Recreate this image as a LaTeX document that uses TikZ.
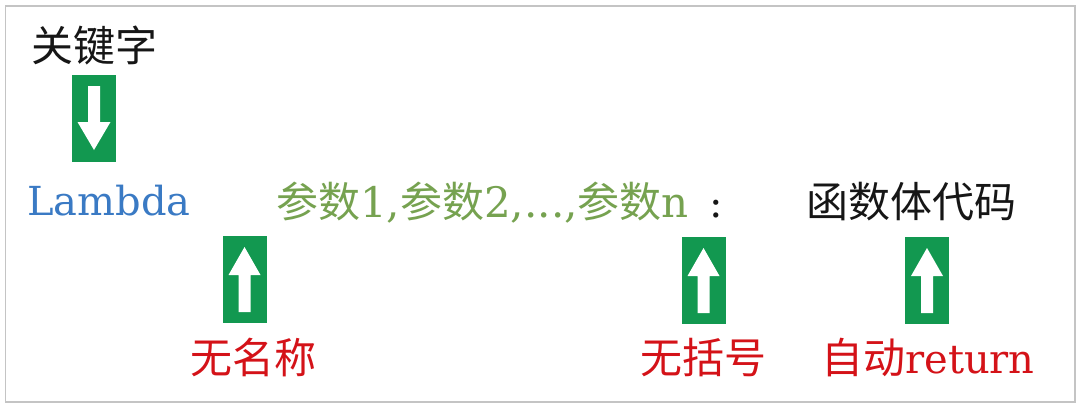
\documentclass[tikz,border=0pt]{standalone}
\usepackage{fontspec}
\setmainfont{DejaVu Serif}
\newfontfamily\cjk{Noto Sans CJK SC}
\definecolor{boxgreen}{RGB}{18,152,80}
\definecolor{lamblue}{RGB}{58,122,196}
\definecolor{pargreen}{RGB}{118,162,80}
\definecolor{lblred}{RGB}{212,18,24}
\definecolor{txtblack}{RGB}{22,22,22}
\definecolor{bordergray}{RGB}{196,196,196}
\tikzset{
  lbl/.style={inner sep=0pt, anchor=base west, font=\fontsize{42}{50}\selectfont},
  gbox/.style={rectangle, fill=boxgreen, draw=none, inner sep=0pt,
    minimum width=44pt, minimum height=87pt},
  uparr/.pic={\fill[white] (0,-32.5) -- (16,-4.5) -- (6,-4.5) -- (6,32.5)
    -- (-6,32.5) -- (-6,-4.5) -- (-16,-4.5) -- cycle;},
  downarr/.pic={\fill[white] (0,31.5) -- (16.5,3.5) -- (6,3.5) -- (6,-32.5)
    -- (-6,-32.5) -- (-6,3.5) -- (-16.5,3.5) -- cycle;}
}
\begin{document}
\begin{tikzpicture}[x=1pt,y=-1pt]
\useasboundingbox (0,0) rectangle (1080,407);
\draw[bordergray, line width=1.2pt] (5.5,6) rectangle (1075,402);

\node[lbl, txtblack] (kw) at (31,61) {\cjk 关键字};
\node[lbl, lamblue, font=\fontsize{40}{48}\selectfont] (lam) at (27,215) {Lambda};
\node[lbl, pargreen] (par) at (276,217) {{\cjk 参数}1,{\cjk 参数}2,...,{\cjk 参数}n};
\node[lbl, txtblack, anchor=base, font=\fontsize{40}{48}\selectfont] (colon) at (716,217) {:};
\node[lbl, txtblack] (body) at (806,217) {\cjk 函数体代码};
\node[lbl, lblred] (noname) at (190,373) {\cjk 无名称};
\node[lbl, lblred] (nobr) at (640,373) {\cjk 无括号};
\node[lbl, lblred] (ret) at (821,373) {{\cjk 自动}{\fontsize{40}{48}\selectfont return}};

\node[gbox] (a1) at (94,118.5) {};
\node[gbox] (a2) at (244.5,279.5) {};
\node[gbox] (a3) at (703.5,280.5) {};
\node[gbox] (a4) at (927,280.5) {};
\pic at (a1.center) {downarr};
\pic at (a2.center) {uparr};
\pic at (a3.center) {uparr};
\pic at (a4.center) {uparr};
\end{tikzpicture}
\end{document}
